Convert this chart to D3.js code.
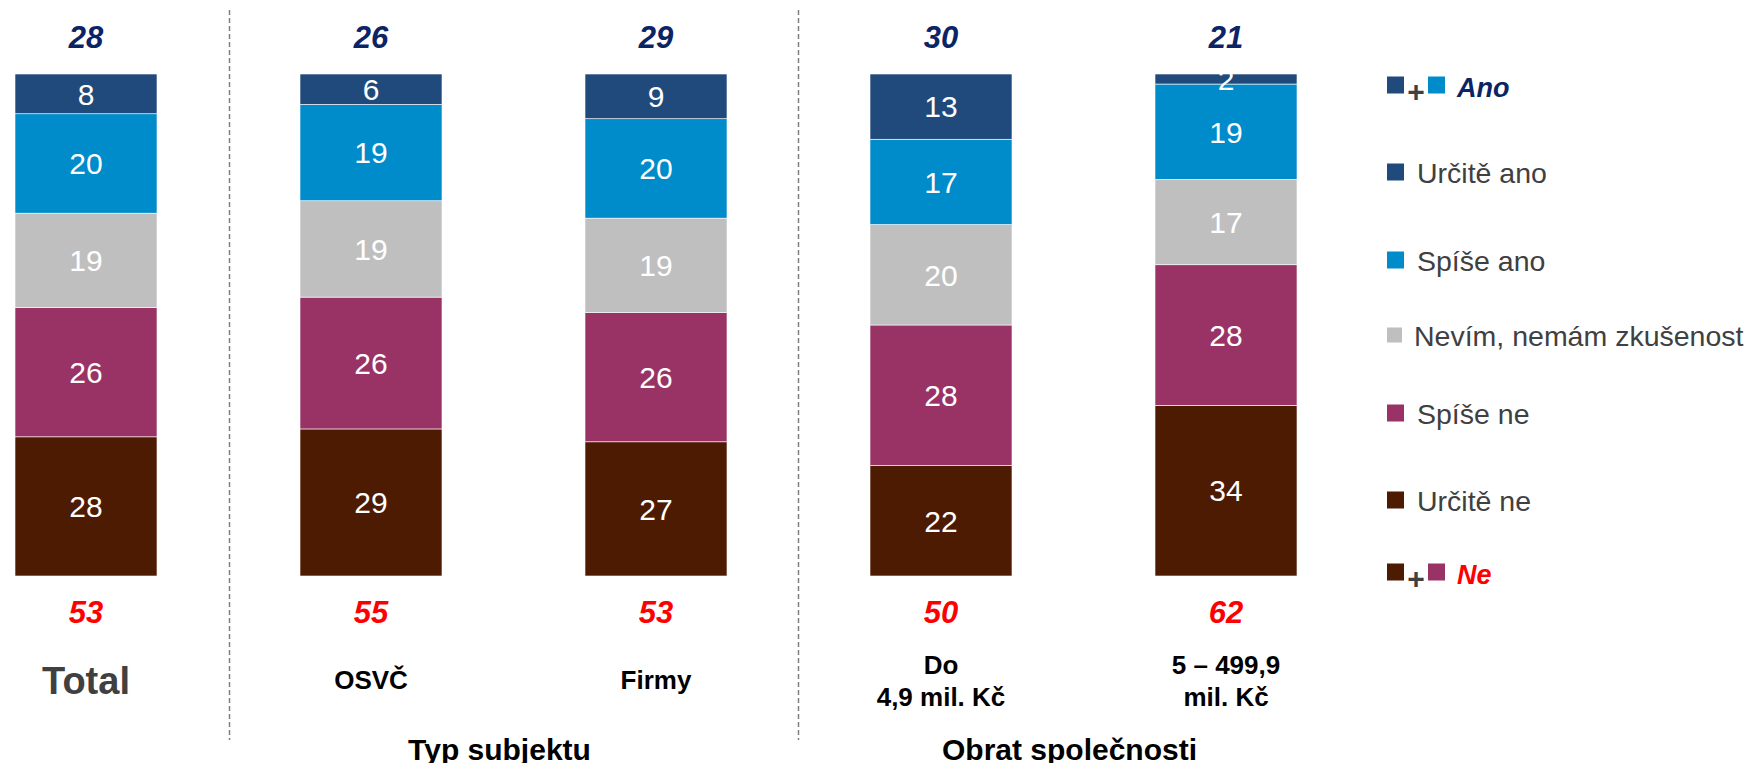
<!DOCTYPE html>
<html>
<head>
<meta charset="utf-8">
<script src="https://cdn.jsdelivr.net/npm/d3@7"></script>
<style>
  body { margin: 0; background: #fff; }
  svg { display: block; font-family: Arial, "Liberation Sans", sans-serif; }
</style>
</head>
<body>
<svg id="chart" width="1755" height="763"></svg>
<script>
const categories = ["Total", "OSVČ", "Firmy", "Do 4,9 mil. Kč", "5 – 499,9 mil. Kč"];
const categoryLines = [["Total"], ["OSVČ"], ["Firmy"], ["Do", "4,9 mil. Kč"], ["5 – 499,9", "mil. Kč"]];
const urciteAno = [8, 6, 9, 13, 2];
const spiseAno = [20, 19, 20, 17, 19];
const nevim = [19, 19, 19, 20, 17];
const spiseNe = [26, 26, 26, 28, 28];
const urciteNe = [28, 29, 27, 22, 34];
const anoTotals = [28, 26, 29, 30, 21];
const neTotals = [53, 55, 53, 50, 62];
const groups = [
  { name: "Typ subjektu", from: 1, to: 2 },
  { name: "Obrat společnosti", from: 3, to: 4 }
];

// bottom -> top stack order
const seriesKeys = ["urciteNe", "spiseNe", "nevim", "spiseAno", "urciteAno"];
const seriesLabels = {
  urciteAno: "Určitě ano", spiseAno: "Spíše ano", nevim: "Nevím, nemám zkušenost",
  spiseNe: "Spíše ne", urciteNe: "Určitě ne"
};
const color = d3.scaleOrdinal()
  .domain(seriesKeys)
  .range(["#4d1a02", "#993366", "#bfbfbf", "#008bca", "#214a7c"]);

const rows = categories.map((c, i) => ({
  category: c,
  urciteAno: urciteAno[i], spiseAno: spiseAno[i], nevim: nevim[i],
  spiseNe: spiseNe[i], urciteNe: urciteNe[i]
}));

const svg = d3.select("#chart");
const barW = 142;

const x = d3.scalePoint().domain(categories).range([86, 1226]);
const y = d3.scaleLinear().domain([0, 1]).range([576, 74]);

const stacked = d3.stack().keys(seriesKeys).offset(d3.stackOffsetExpand)(rows);

// bars
const layers = svg.append("g")
  .selectAll("g")
  .data(stacked)
  .join("g")
  .attr("fill", d => color(d.key));

layers.selectAll("rect")
  .data(d => d)
  .join("rect")
  .attr("x", d => x(d.data.category) - barW / 2)
  .attr("y", d => y(d[1]))
  .attr("width", barW)
  .attr("height", d => y(d[0]) - y(d[1]))
  .attr("stroke", "#ffffff")
  .attr("stroke-width", 0.6);

// segment values
layers.selectAll("text")
  .data(d => d.map(p => ({ p, key: d.key })))
  .join("text")
  .attr("x", d => x(d.p.data.category))
  .attr("y", d => (y(d.p[0]) + y(d.p[1])) / 2)
  .attr("dy", "0.36em")
  .attr("text-anchor", "middle")
  .attr("fill", "#ffffff")
  .attr("font-size", 30)
  .text(d => d.p.data[d.key]);

// Ano totals above
svg.append("g").selectAll("text")
  .data(anoTotals)
  .join("text")
  .attr("x", (d, i) => x(categories[i]))
  .attr("y", 48)
  .attr("text-anchor", "middle")
  .attr("font-size", 31)
  .attr("font-weight", "bold")
  .attr("font-style", "italic")
  .attr("fill", "#0a2465")
  .text(d => d);

// Ne totals below
svg.append("g").selectAll("text")
  .data(neTotals)
  .join("text")
  .attr("x", (d, i) => x(categories[i]))
  .attr("y", 623)
  .attr("text-anchor", "middle")
  .attr("font-size", 31)
  .attr("font-weight", "bold")
  .attr("font-style", "italic")
  .attr("fill", "#ff0000")
  .text(d => d);

// category labels
categoryLines.forEach((lines, i) => {
  const t = svg.append("text")
    .attr("x", x(categories[i]))
    .attr("text-anchor", "middle")
    .attr("font-weight", "bold")
    .attr("fill", i === 0 ? "#404040" : "#000000")
    .attr("font-size", i === 0 ? 38 : 26);
  if (i === 0) {
    t.attr("y", 694).text(lines[0]);
  } else if (lines.length === 1) {
    t.attr("y", 689).text(lines[0]);
  } else {
    lines.forEach((l, k) => {
      t.append("tspan").attr("x", x(categories[i])).attr("y", 674 + k * 32).text(l);
    });
  }
});

// group labels (the source crops them at the bottom edge)
groups.forEach(g => {
  svg.append("text")
    .attr("x", (x(categories[g.from]) + x(categories[g.to])) / 2 - 14)
    .attr("y", 760)
    .attr("text-anchor", "middle")
    .attr("font-weight", "bold")
    .attr("font-size", 30)
    .attr("fill", "#000000")
    .text(g.name);
});

// dashed dividers between groups
const dividers = [
  (x(categories[0]) + x(categories[1])) / 2 + 1,
  (x(categories[2]) + x(categories[3])) / 2
];
svg.append("g").selectAll("line")
  .data(dividers)
  .join("line")
  .attr("x1", d => d).attr("x2", d => d)
  .attr("y1", 10).attr("y2", 740)
  .attr("stroke", "#7f7f7f")
  .attr("stroke-width", 1.5)
  .attr("stroke-dasharray", "5,3");

// legend
const legend = svg.append("g").attr("transform", "translate(1387,0)");
const sw = 17;

function comboRow(yc, keys, label, fill) {
  const g = legend.append("g").attr("transform", `translate(0,${yc})`);
  g.append("rect").attr("x", 0).attr("y", -sw / 2).attr("width", sw).attr("height", sw).attr("fill", color(keys[0]));
  g.append("text").attr("x", 29).attr("y", 17).attr("text-anchor", "middle")
    .attr("font-size", 30).attr("font-weight", "bold").attr("fill", "#404040").text("+");
  g.append("rect").attr("x", 41).attr("y", -sw / 2).attr("width", sw).attr("height", sw).attr("fill", color(keys[1]));
  g.append("text").attr("x", 70).attr("y", 12)
    .attr("font-size", 27).attr("font-weight", "bold").attr("font-style", "italic")
    .attr("fill", fill).text(label);
}

comboRow(85, ["urciteAno", "spiseAno"], "Ano", "#0a2465");

const legendItems = ["urciteAno", "spiseAno", "nevim", "spiseNe", "urciteNe"];
const legendY = [172, 260, 335, 413, 500];
legendItems.forEach((k, i) => {
  const g = legend.append("g").attr("transform", `translate(0,${legendY[i]})`);
  const s = k === "nevim" ? 15 : sw;
  g.append("rect").attr("x", 0).attr("y", -s / 2).attr("width", s).attr("height", s).attr("fill", color(k));
  g.append("text").attr("x", k === "nevim" ? 27 : 30).attr("y", 11)
    .attr("font-size", 28.5).attr("fill", "#404040").text(seriesLabels[k]);
});

comboRow(572, ["urciteNe", "spiseNe"], "Ne", "#ff0000");
</script>
</body>
</html>
